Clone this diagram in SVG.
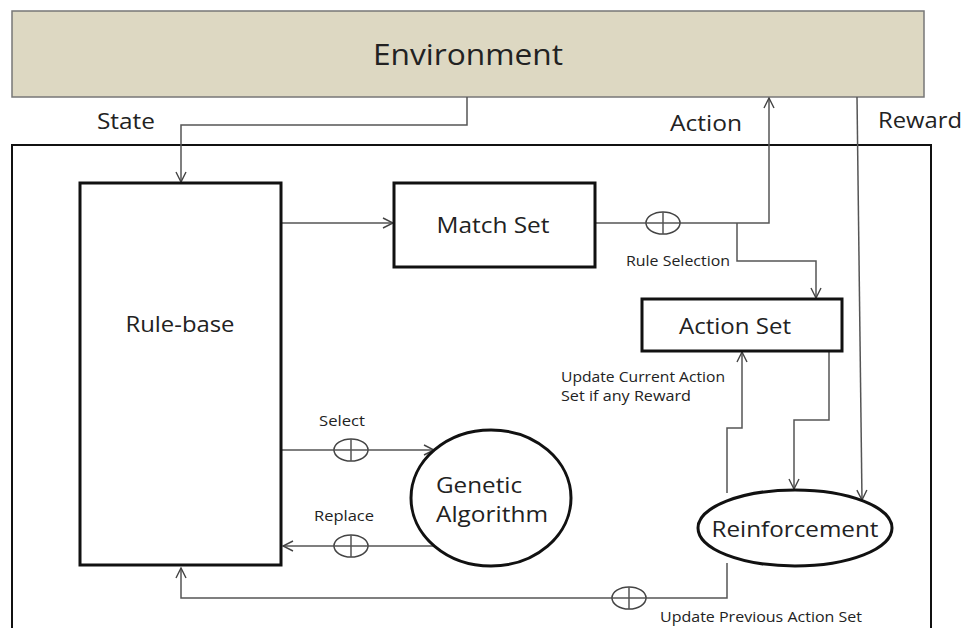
<svg xmlns="http://www.w3.org/2000/svg" width="967" height="628" viewBox="0 0 967 628">
<style>
.t{font-family:"Open Sans","Liberation Sans",Arial,sans-serif;fill:#222;}
.c{fill:none;stroke:#555;stroke-width:1.5;}
.box{fill:#fff;stroke:#111;stroke-width:3;}
.xp{fill:#fff;stroke:#444;stroke-width:1.5;}
</style>
<defs>
<marker id="ah" viewBox="0 0 12 12" refX="11" refY="6" markerWidth="12" markerHeight="12" markerUnits="userSpaceOnUse" orient="auto">
<path d="M1,1 L11,6 L1,11" fill="none" stroke="#444" stroke-width="1.4"/>
</marker>
</defs>
<rect width="967" height="628" fill="#fff"/>
<g id="environment">
<rect x="12" y="11" width="912" height="86" fill="#ddd8c2" stroke="#777" stroke-width="1.5"/>
<text class="t" x="468" y="65" font-size="30" text-anchor="middle" textLength="190" lengthAdjust="spacingAndGlyphs">Environment</text>
</g>
<g id="system">
<rect x="12" y="145" width="919" height="500" fill="none" stroke="#111" stroke-width="2"/>
</g>
<g id="labels">
<text class="t" x="126" y="129" font-size="21" text-anchor="middle" textLength="58" lengthAdjust="spacingAndGlyphs">State</text>
<text class="t" x="706" y="131" font-size="21" text-anchor="middle" textLength="72" lengthAdjust="spacingAndGlyphs">Action</text>
<text class="t" x="920" y="128" font-size="21" text-anchor="middle" textLength="84" lengthAdjust="spacingAndGlyphs">Reward</text>
<text class="t" x="678" y="266" font-size="14" text-anchor="middle" textLength="104" lengthAdjust="spacingAndGlyphs">Rule Selection</text>
<text class="t" x="561" y="382" font-size="14" textLength="164" lengthAdjust="spacingAndGlyphs">Update Current Action</text>
<text class="t" x="561" y="401" font-size="14" textLength="130" lengthAdjust="spacingAndGlyphs">Set if any Reward</text>
<text class="t" x="342" y="426" font-size="14" text-anchor="middle" textLength="46" lengthAdjust="spacingAndGlyphs">Select</text>
<text class="t" x="344" y="521" font-size="14" text-anchor="middle" textLength="60" lengthAdjust="spacingAndGlyphs">Replace</text>
<text class="t" x="761" y="622" font-size="14" text-anchor="middle" textLength="202" lengthAdjust="spacingAndGlyphs">Update Previous Action Set</text>
</g>
<g id="connectors">
<path class="c" d="M467,97 V125 H181 V182" marker-end="url(#ah)"/>
<path class="c" d="M282,223 H393" marker-end="url(#ah)"/>
<path class="c" d="M595,223 H769 V98" marker-end="url(#ah)"/>
<path class="c" d="M737,223 V261 H816 V298" marker-end="url(#ah)"/>
<path class="c" d="M727,493 V428 H742 V352" marker-end="url(#ah)"/>
<path class="c" d="M829,351 V420 H794 V489" marker-end="url(#ah)"/>
<path class="c" d="M857,97 L862,500" marker-end="url(#ah)"/>
<path class="c" d="M282,450 H434" marker-end="url(#ah)"/>
<path class="c" d="M434,546 H283" marker-end="url(#ah)"/>
<path class="c" d="M727,563 V598 H181 V568" marker-end="url(#ah)"/>
<g id="xor1"><ellipse class="xp" cx="663" cy="223" rx="17" ry="11"/><path class="c" d="M663,212 V234 M646,223 H680"/></g>
<g id="xor2"><ellipse class="xp" cx="351" cy="450" rx="17" ry="11"/><path class="c" d="M351,439 V461 M334,450 H368"/></g>
<g id="xor3"><ellipse class="xp" cx="351" cy="546" rx="17" ry="11"/><path class="c" d="M351,535 V557 M334,546 H368"/></g>
<g id="xor4"><ellipse class="xp" cx="629" cy="598" rx="17" ry="11"/><path class="c" d="M629,587 V609 M612,598 H646"/></g>
</g>
<g id="rulebase">
<rect class="box" x="80" y="183" width="201" height="382"/>
<text class="t" x="180" y="332" font-size="22" text-anchor="middle" textLength="109" lengthAdjust="spacingAndGlyphs">Rule-base</text>
</g>
<g id="matchset">
<rect class="box" x="394" y="183" width="201" height="84"/>
<text class="t" x="493" y="233" font-size="22" text-anchor="middle" textLength="113" lengthAdjust="spacingAndGlyphs">Match Set</text>
</g>
<g id="actionset">
<rect class="box" x="642" y="299" width="200" height="52"/>
<text class="t" x="735" y="334" font-size="22" text-anchor="middle" textLength="112" lengthAdjust="spacingAndGlyphs">Action Set</text>
</g>
<g id="genetic">
<ellipse class="box" cx="491" cy="498" rx="80" ry="68"/>
<text class="t" x="436" y="493" font-size="22" textLength="86" lengthAdjust="spacingAndGlyphs">Genetic</text>
<text class="t" x="436" y="522" font-size="22" textLength="112" lengthAdjust="spacingAndGlyphs">Algorithm</text>
</g>
<g id="reinforcement">
<ellipse class="box" cx="795" cy="528" rx="97" ry="38"/>
<text class="t" x="795" y="537" font-size="22" text-anchor="middle" textLength="167" lengthAdjust="spacingAndGlyphs">Reinforcement</text>
</g>
</svg>
